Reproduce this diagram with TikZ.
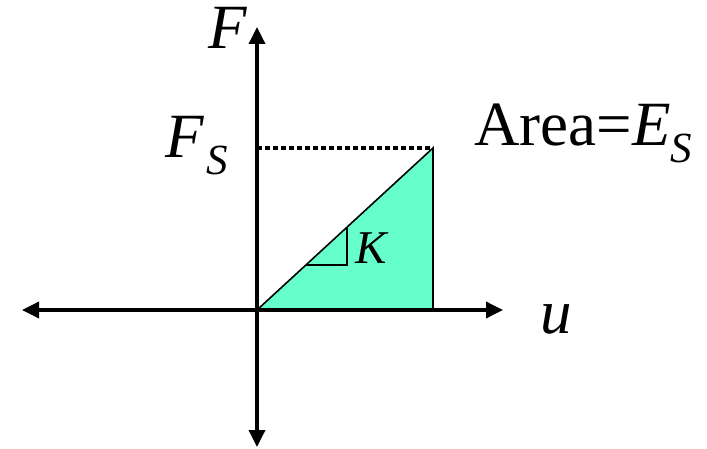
\documentclass[tikz,border=0pt]{standalone}
\usepackage{fontspec}
\setmainfont{Liberation Serif}
\usetikzlibrary{arrows.meta}
\tikzset{
  axis/.style={line width=3.5pt, -{Triangle[length=17pt,width=16pt]}},
  lbl/.style={inner sep=0pt, anchor=base west, font=\fontsize{63}{63}\selectfont},
  subs/.style={inner sep=0pt, anchor=base west, font=\fontsize{43}{43}\selectfont\itshape},
  fillc/.style={fill=aqua, draw=black, line width=1.6pt}
}
\definecolor{aqua}{HTML}{66FFCC}
\begin{document}
\begin{tikzpicture}[x=1pt,y=-1pt]
\useasboundingbox (0,0) rectangle (707,449);
\coordinate (O) at (257,310);
\coordinate (P) at (433,148);
\coordinate (Q) at (433,310);
\coordinate (Y) at (257,148);
\coordinate (L) at (22,310);
\coordinate (R) at (503,310);
\coordinate (T) at (257,27);
\coordinate (B) at (257,447);
\coordinate (k1) at (306,265);
\coordinate (k2) at (347,265);
\coordinate (k3) at (347,228);
\filldraw[fillc] (O) -- (P) -- (Q) -- cycle;
\draw[line width=1.6pt] (k1) -- (k2) -- (k3);
\draw[line width=3.5pt, dash pattern=on 5pt off 3pt] (Y) -- (P);
\draw[axis] (O) -- (L);
\draw[axis] (O) -- (R);
\draw[axis] (O) -- (T);
\draw[axis] (O) -- (B);
\node[lbl] (fl) at (208,49) {\itshape F};
\node[lbl] (fs) at (165,158) {\itshape F};
\node[subs] (fss) at (206,175) {S};
\node[lbl] (ul) at (540,333) {\itshape u};
\node[lbl] (area) at (474,146) {Area=\itshape E};
\node[subs] (es) at (area.base east) [xshift=-1pt, yshift=-17pt] {S};
\node[inner sep=0pt, anchor=base west, font=\fontsize{47}{47}\selectfont\itshape] (kl) at (355,263) {K};
\end{tikzpicture}
\end{document}
